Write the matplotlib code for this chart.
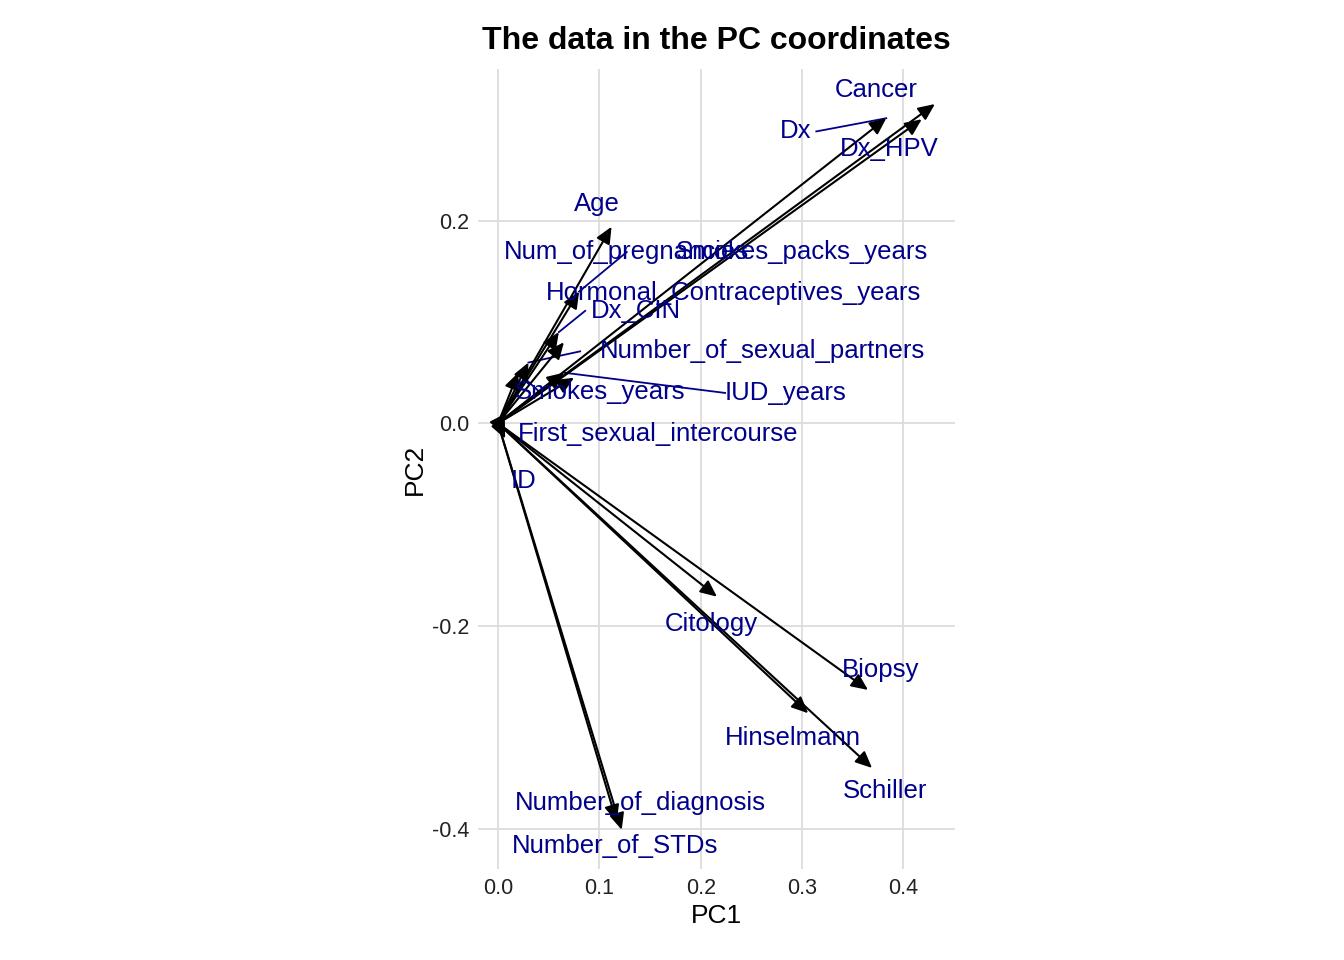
import matplotlib
matplotlib.use("Agg")
import matplotlib.pyplot as plt

names = ["Cancer","Dx","Dx_HPV","Age","Num_of_pregnancies","Smokes_packs_years",
         "Hormonal_Contraceptives_years","Dx_CIN","Number_of_sexual_partners","IUD_years",
         "Smokes_years","First_sexual_intercourse","ID","Citology","Biopsy","Hinselmann",
         "Schiller","Number_of_diagnosis","Number_of_STDs"]
pc1 = [0.431,0.383,0.418,0.112,0.080,0.065,0.075,0.060,0.030,0.065,0.020,0.008,0.007,
       0.216,0.365,0.306,0.369,0.117,0.122]
pc2 = [0.315,0.301,0.300,0.194,0.130,0.080,0.045,0.090,0.060,0.050,0.050,0.010,-0.015,
       -0.171,-0.263,-0.286,-0.340,-0.393,-0.401]
lab_x = [0.373,0.294,0.386,0.098,0.127,0.300,0.232,0.136,0.261,0.284,0.101,0.158,0.025,
         0.210,0.377,0.291,0.382,0.140,0.115]
lab_y = [0.329,0.288,0.271,0.216,0.169,0.169,0.129,0.111,0.071,0.030,0.031,-0.011,-0.057,
         -0.198,-0.243,-0.310,-0.363,-0.375,-0.417]

plt.rcParams['font.family'] = ['Liberation Sans', 'DejaVu Sans']
plt.rcParams['axes.unicode_minus'] = False
fig = plt.figure(figsize=(13.44, 9.6), dpi=100)
ax = fig.add_axes([0.3557, 0.094, 0.355, 0.835])
ax.set_xlim(-0.0197, 0.451)
ax.set_ylim(-0.440, 0.350)
ax.set_aspect('equal', adjustable='box')

for x, y in zip(pc1, pc2):
    ax.annotate("", xy=(x, y), xytext=(0, 0),
                arrowprops=dict(arrowstyle="-|>,head_length=1.0,head_width=0.45",
                                color="black", lw=1.5, shrinkA=0, shrinkB=0), zorder=3)
for n, x, y, lx, ly in zip(names, pc1, pc2, lab_x, lab_y):
    if n in ("Dx", "IUD_years", "Num_of_pregnancies", "Number_of_sexual_partners",
             "Smokes_years", "Dx_CIN"):
        off = {"Dx": 0.02, "IUD_years": -0.06, "Number_of_sexual_partners": -0.18,
               "Dx_CIN": -0.05, "Num_of_pregnancies": 0.0, "Smokes_years": -0.06}[n]
        ax.plot([lx + off, x], [ly, y], color="darkblue", lw=1.3, zorder=2)
    ax.text(lx, ly, n, color="darkblue", fontsize=18.5, ha="center", va="center", zorder=4)

ax.set_xticks([0.0, 0.1, 0.2, 0.3, 0.4])
ax.set_yticks([-0.4, -0.2, 0.0, 0.2])
ax.grid(True, color="#dcdcdc", lw=1.3)
ax.set_axisbelow(True)
for s in ax.spines.values():
    s.set_visible(False)
ax.tick_params(length=0, labelsize=15.5, colors="#222222", pad=6)
ax.set_xlabel("PC1", fontsize=19)
ax.set_ylabel("PC2", fontsize=19)
ax.set_title("The data in the PC coordinates", fontsize=23, fontweight="bold", pad=14)
fig.savefig("out.png", dpi=100)
